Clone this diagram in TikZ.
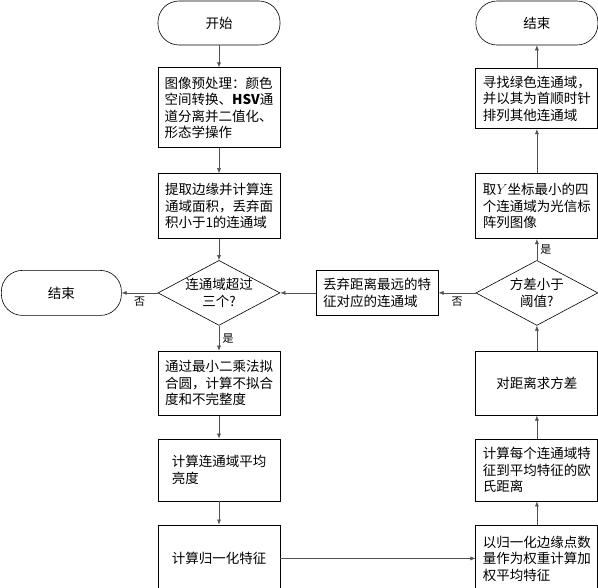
\documentclass[tikz,border=0pt]{standalone}
\usepackage{fontspec}
\newfontfamily\cjk{Noto Sans CJK SC}
\usetikzlibrary{shapes.geometric, arrows.meta, positioning}
\definecolor{linegray}{RGB}{80, 80, 80}

\begin{document}
\begin{tikzpicture}[x=1pt, y=1pt,
        font=\cjk\fontsize{13.5}{16.5}\selectfont,
        box/.style={draw, line width=0.9pt, minimum width=122pt, align=left, inner sep=3pt},
        term/.style={draw, line width=0.6pt, rounded corners=21pt, minimum width=122pt, minimum height=44pt},
        decision/.style={draw, diamond, aspect=1.88, line width=0.6pt, minimum width=122pt, minimum height=65pt, inner sep=0pt, align=center},
        arrow/.style={-{Latex[length=5pt, width=4pt]}, line width=0.5pt, linegray},
        lbl/.style={font=\cjk\fontsize{11}{13}\selectfont, text=black}
    ]
    \useasboundingbox (0,0) rectangle (598,-588);

    % left column
    \node[term] (start) at (219,-23) {开始};
    \node[box, minimum height=80pt, below=22pt of start] (prep) {图像预处理：颜色\\空间转换、\textbf{HSV}通\\道分离并二值化、\\形态学操作};
    \node[box, minimum height=65pt, below=25pt of prep] (edge) {提取边缘并计算连\\通域面积，丢弃面\\积小于1的连通域};
    \node[decision, below=21pt of edge] (count) {连通域超过\\三个?};
    \node[box, minimum height=64pt, below=25pt of count] (fit) {通过最小二乘法拟\\合圆，计算不拟合\\度和不完整度};
    \node[box, minimum height=62pt, below=23pt of fit] (bright) {计算连通域平均\\亮度};
    \node[box, minimum height=67pt, below=23pt of bright] (norm) {计算归一化特征};
    \node[term, minimum width=120pt, minimum height=45pt, left=36pt of count] (endL) {结束};

    % right column
    \node[box, minimum height=67pt, right=195pt of norm] (weight) {以归一化边缘点数\\量作为权重计算加\\权平均特征};
    \node[box, minimum height=62pt, above=23pt of weight] (dist) {计算每个连通域特\\征到平均特征的欧\\氏距离};
    \node[box, minimum height=64pt, align=center, above=23pt of dist] (var) {对距离求方差};
    \node[decision, above=25pt of var] (thresh) {方差小于\\阈值?};
    \node[box, minimum height=45pt, left=37pt of thresh] (drop) {丢弃距离最远的特\\征对应的连通域};
    \node[box, minimum height=65pt, above=21pt of thresh] (pick) {取$Y$坐标最小的四\\个连通域为光信标\\阵列图像};
    \node[box, minimum height=60pt, above=44pt of pick] (sort) {寻找绿色连通域，\\并以其为首顺时针\\排列其他连通域};
    \node[term, above=23pt of sort] (endR) {结束};

    \draw[arrow] (start) -- (prep);
    \draw[arrow] (prep) -- (edge);
    \draw[arrow] (edge) -- (count);
    \draw[arrow] (count) -- node[lbl, right] {是} (fit);
    \draw[arrow] (count) -- node[lbl, below] {否} (endL);
    \draw[arrow] (fit) -- (bright);
    \draw[arrow] (bright) -- (norm);
    \draw[arrow] (norm) -- (weight);
    \draw[arrow] (weight) -- (dist);
    \draw[arrow] (dist) -- (var);
    \draw[arrow] (var) -- (thresh);
    \draw[arrow] (thresh) -- node[lbl, below] {否} (drop);
    \draw[arrow] (drop) -- (count);
    \draw[arrow] (thresh) -- node[lbl, right] {是} (pick);
    \draw[arrow] (pick) -- (sort);
    \draw[arrow] (sort) -- (endR);
\end{tikzpicture}
\end{document}
